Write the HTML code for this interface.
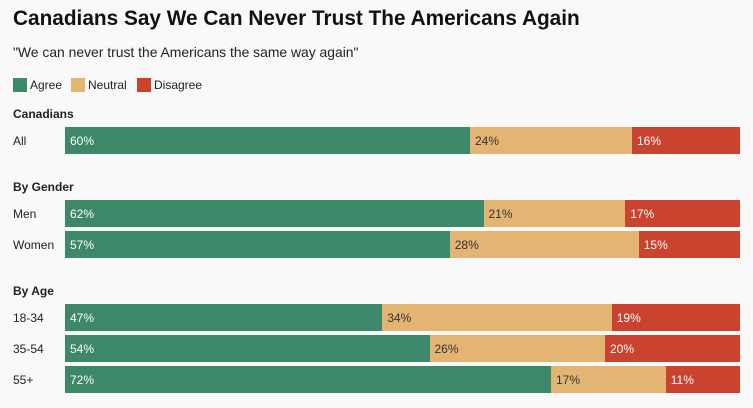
<!DOCTYPE html>
<html><head><meta charset="utf-8"><style>
body{margin:0;width:753px;height:408px;background:#f9f9f9;font-family:"Liberation Sans",sans-serif;position:relative;overflow:hidden;color:#222}
.a{position:absolute;white-space:nowrap}
.t{left:13px;top:7px;font-size:20.8px;font-weight:bold;color:#111}
.s{left:13px;top:44px;font-size:13.9px;color:#222}
.sw{width:14px;height:14px;top:78px}
.lg{top:78px;font-size:12px;line-height:15px}
.h{font-size:12px;font-weight:bold;left:13px}
.rl{font-size:12px;left:13px}
.bar{position:absolute;height:27px;font-size:12px;line-height:28px;box-sizing:border-box;padding-left:5px}
</style></head><body>
<div class="a t">Canadians Say We Can Never Trust The Americans Again</div>
<div class="a s">"We can never trust the Americans the same way again"</div>
<div class="a sw" style="left:13px;background:#3d8868"></div>
<div class="a lg" style="left:30px">Agree</div>
<div class="a sw" style="left:71px;background:#e3b472"></div>
<div class="a lg" style="left:88px">Neutral</div>
<div class="a sw" style="left:137px;background:#c9432f"></div>
<div class="a lg" style="left:154px">Disagree</div>
<div class="a h" style="top:107px">Canadians</div>
<div class="a h" style="top:180px">By Gender</div>
<div class="a h" style="top:284px">By Age</div>
<div id="chart"></div>
<script>
const categories=["All","Men","Women","18-34","35-54","55+"];
const agree=[60,62,57,47,54,72];
const neutral=[24,21,28,34,26,17];
const disagree=[16,17,15,19,20,11];
const rowTops=[127,200,231,304,335,366];
const x0=65,W=675;
const xs=v=>v/100*W;
const chart=document.getElementById('chart');
const colors=["#3d8868","#e3b472","#c9432f"],txt=["#fff","#333","#fff"],names=["agree","neutral","disagree"];
categories.forEach((c,i)=>{
  const lab=document.createElement('div');
  lab.className='a rl';lab.style.top=(rowTops[i]+7)+'px';lab.textContent=c;
  
  
  chart.appendChild(lab);
  let acc=0;
  [agree[i],neutral[i],disagree[i]].forEach((v,k)=>{
    const b=document.createElement('div');
    b.className='bar';
    b.style.left=(x0+xs(acc))+'px';b.style.width=xs(v)+'px';b.style.top=rowTops[i]+'px';
    b.style.background=colors[k];b.style.color=txt[k];
    b.textContent=v+'%';
    
    
    chart.appendChild(b);
    acc+=v;
  });
});
</script>
</body></html>
